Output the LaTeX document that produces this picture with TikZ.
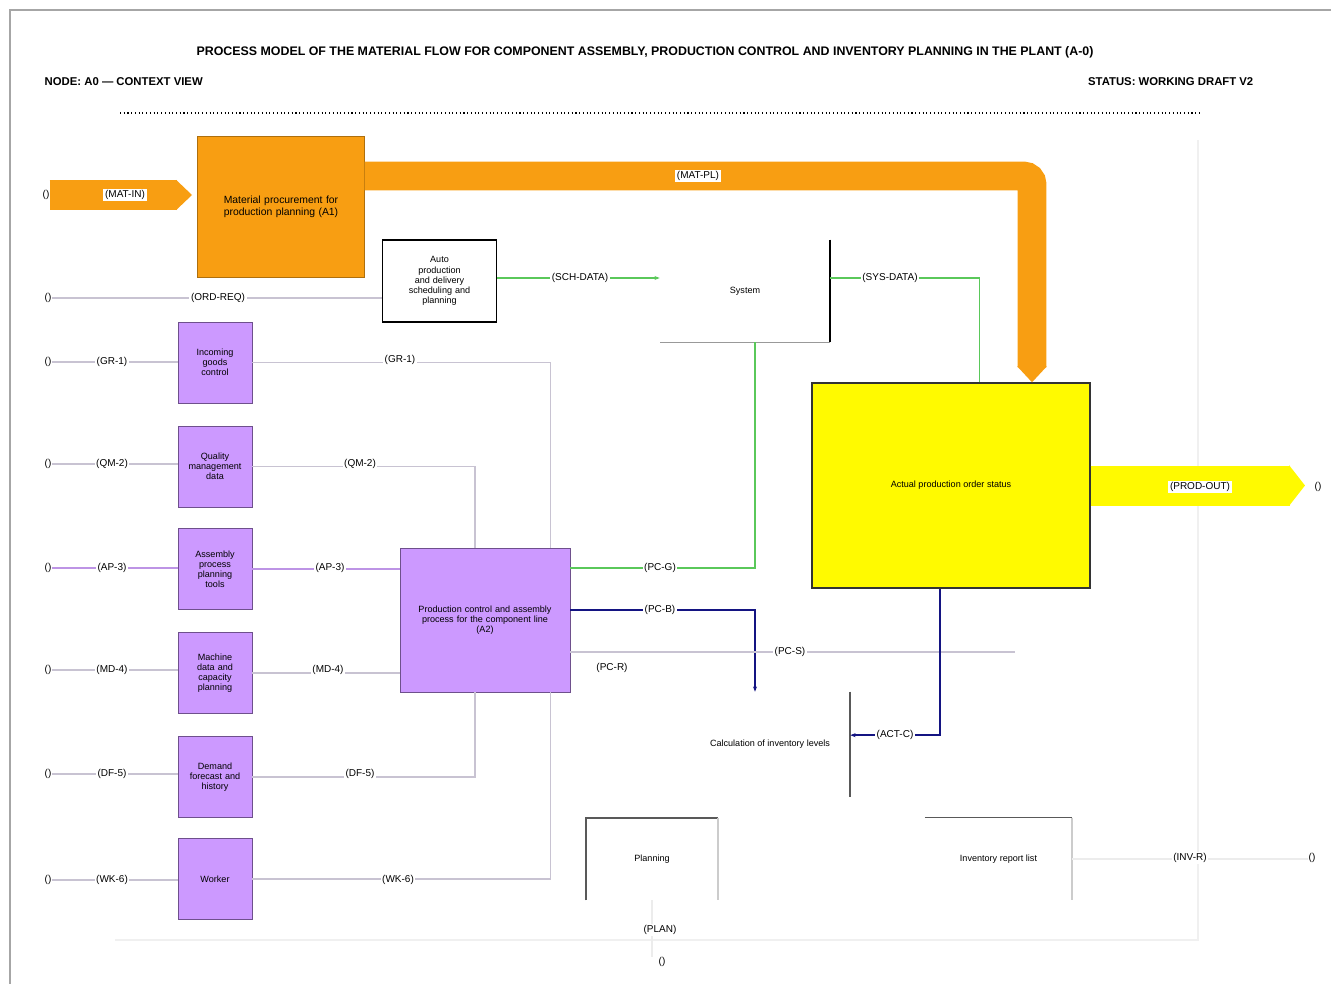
\documentclass[tikz,border=0pt]{standalone}
\usepackage{fontspec}
\setmainfont{Liberation Sans}
\usetikzlibrary{arrows.meta,calc}
\definecolor{orng}{RGB}{248,158,18}
\definecolor{yell}{RGB}{255,250,0}
\definecolor{purp}{RGB}{204,153,255}
\definecolor{purpd}{RGB}{110,80,140}
\definecolor{grn}{RGB}{90,200,90}
\definecolor{navy}{RGB}{20,20,130}
\definecolor{lgray}{RGB}{200,195,210}
\begin{document}
\begin{tikzpicture}[x=0.75pt,y=-0.75pt,
  every node/.style={font=\fontsize{6.8}{7.6}\selectfont},
  obox/.style={fill=orng, draw=orng!70!black, minimum width=125pt, minimum height=106pt, text width=118pt, align=center, inner sep=0pt, font=\fontsize{7.8}{8.8}\selectfont},
  pbox/.style={fill=purp, draw=purpd, minimum width=55.5pt, minimum height=61pt, text width=53pt, align=center, inner sep=0pt},
  bigp/.style={fill=purp, draw=purpd, minimum width=127.5pt, minimum height=108pt, text width=122pt, align=center, inner sep=0pt},
  ybox/.style={fill=yell, draw=black!80, line width=1pt, minimum width=208.5pt, minimum height=153.75pt, align=center, inner sep=0pt},
  plain/.style={minimum width=#1, align=center, inner sep=0pt},
  lbl/.style={fill=white, inner sep=1.2pt, font=\fontsize{7.5}{8.5}\selectfont},
  mk/.style={inner sep=0pt, font=\fontsize{7.5}{8.5}\selectfont},
  gline/.style={lgray, line width=0.8pt},
  pline/.style={purp!80!gray, line width=1pt},
  grline/.style={grn, line width=1pt},
  bline/.style={navy, line width=1.3pt},
  fat/.style={line width=#1, -{Triangle[length=12pt,width=#1]}},
]
\useasboundingbox (0,0) rectangle (1331,984);
% frame
\draw[gray!70, line width=1.5pt] (10,984) -- (10,10) -- (1331,10);
% header
\node[font=\bfseries\fontsize{9.3}{10}\selectfont] (title) at (645,52) {PROCESS MODEL OF THE MATERIAL FLOW FOR COMPONENT ASSEMBLY, PRODUCTION CONTROL AND INVENTORY PLANNING IN THE PLANT (A-0)};
\node[anchor=west, font=\bfseries\fontsize{8.5}{9}\selectfont] (subl) at (40,82) {NODE: A0 — CONTEXT VIEW};
\node[anchor=east, font=\bfseries\fontsize{8.5}{9}\selectfont] (subr) at (1258,82) {STATUS: WORKING DRAFT V2};
\coordinate (dl1) at (120,113); \coordinate (dl2) at (1200,113);
\draw[dotted, line width=0.8pt] (dl1) -- (dl2);
% lane lines
\coordinate (ln1) at (1198,140); \coordinate (ln2) at (1198,940); \coordinate (ln3) at (115,940);
\draw[gray!12, line width=1pt] (ln1) -- (ln2) -- (ln3);

% nodes
\node[obox] (src) at (281,207) {Material procurement for\\production planning (A1)};
\node[plain=85pt, minimum height=61.5pt, draw=black, line width=0.9pt, text width=82pt] (sb) at (439.5,281) {Auto\\production\\and delivery\\scheduling and\\planning};
\node[plain=127.5pt, minimum height=76.5pt] (sn) at (745,291) {System};
\draw[line width=1.2pt] (sn.north east) -- (sn.south east);
\draw[gray!80, line width=1pt] (sn.south east) -- (sn.south west);
\node[ybox] (yel) at (951,485.5) {Actual production order status};

\node[pbox] (p1) at (215,362.5) {Incoming\\goods\\control};
\node[pbox] (p2) at (215,466.5) {Quality\\management\\data};
\node[pbox] (p3) at (215,569) {Assembly\\process\\planning\\tools};
\node[pbox] (p4) at (215,673) {Machine\\data and\\capacity\\planning};
\node[pbox] (p5) at (215,777) {Demand\\forecast and\\history};
\node[pbox] (p6) at (215,879) {Worker};
\node[bigp] (bp) at (485,620) {Production control and assembly\\process for the component line\\(A2)};

\node[plain=120pt, minimum height=78.75pt] (calc) at (770,744.5) {Calculation of inventory levels};
\draw[gray!70!black, line width=1.2pt] (calc.north east) -- (calc.south east);
\node[plain=99pt, minimum height=61.5pt] (pl) at (652,859) {Planning};
\draw[gray!70!black, line width=1.2pt] (pl.south west) -- (pl.north west) -- (pl.north east);
\draw[gray!40, line width=1.2pt] (pl.north east) -- (pl.south east);
\node[plain=110pt, minimum height=61.5pt] (bx2) at (998.5,859) {Inventory report list};
\draw[gray!70!black, line width=1pt] (bx2.north west) -- (bx2.north east);
\draw[gray!40, line width=1.2pt] (bx2.north east) -- (bx2.south east);

% markers
\node[mk] (in0) at (46,195) {()};
\node[mk] (i0) at (48,298) {()};
\node[mk] (i1) at (48,362) {()};
\node[mk] (i2) at (48,464) {()};
\node[mk] (i3) at (48,568) {()};
\node[mk] (i4) at (48,670) {()};
\node[mk] (i5) at (48,774) {()};
\node[mk] (i6) at (48,880) {()};
\node[mk] (oy) at (1318,487) {()};
\node[mk] (ob) at (1312,858) {()};
\node[mk] (op) at (662,962) {()};
\coordinate (yt) at (1305,487);
\coordinate (g1) at (1015,652);

% thick flows
\draw[orng, fat=22pt] (in0.east) -- ([xshift=-4pt]in0.east -| src.west);
\draw[orng, fat=21.5pt, rounded corners=6pt] ([yshift=-30pt]src.north east) -| ([xshift=-44pt]yel.north east);
\draw[yell, fat=30pt] (yel.east) -- (yel.east -| yt);

% thin connectors
\draw[gline] (i0.east) -- (i0 -| sb.west);
\draw[grline, -{Stealth[length=4pt]}] ([yshift=2.25pt]sb.east) -- ([yshift=2.25pt]sb.east -| sn.west);
\draw[grline] ([yshift=9.75pt]sn.east) -| ([xshift=126pt]yel.north west);
\draw[grline] ([yshift=39pt]bp.east) -| ([xshift=7.5pt]sn.south);
\draw[bline, -{Stealth[length=4pt]}] ([yshift=7.5pt]bp.east) -| ([xshift=-11.25pt]calc.north);
\draw[gline] ([yshift=-24pt]bp.east) -- (g1);
\draw[bline, -{Stealth[length=4pt]}] ([xshift=-8.25pt]yel.south) |- ([yshift=7pt]calc.east);

\draw[gline] (i1.east) -- (i1.east -| p1.west);
\draw[gline] (i2.east) -- (i2.east -| p2.west);
\draw[pline] (i3.east) -- (i3.east -| p3.west);
\draw[gline] (i4.east) -- (i4.east -| p4.west);
\draw[gline] (i5.east) -- (i5.east -| p5.west);
\draw[gline] (i6.east) -- (i6.east -| p6.west);

\draw[gline] (p1.east) -| ([xshift=-15pt]bp.north east);
\draw[gline] (p2.east) -| ([xshift=-7.5pt]bp.north);
\draw[pline] (p3.east) -- (p3.east -| bp.west);
\draw[gline] (p4.east) -- (p4.east -| bp.west);
\draw[gline] (p5.east) -| ([xshift=-7.5pt]bp.south);
\draw[gline] (p6.east) -| ([xshift=-15pt]bp.south east);

\draw[gray!15, line width=0.8pt] (pl.south) -- (pl.south |- op.north);
\draw[gray!15, line width=0.8pt] (bx2.east) -- (bx2.east -| ob.west);

% labels
\node[lbl] (la0) at (125,195) {(MAT-IN)};
\node[lbl] (lat) at (698,176) {(MAT-PL)};
\node[lbl] (lb0) at (218,298) {(ORD-REQ)};
\node[lbl] (lg1) at (580,278) {(SCH-DATA)};
\node[lbl] (lg2) at (890,278) {(SYS-DATA)};
\node[lbl] (l1a) at (112,362) {(GR-1)};
\node[lbl] (l1b) at (400,360) {(GR-1)};
\node[lbl] (l2a) at (112,464) {(QM-2)};
\node[lbl] (l2b) at (360,464) {(QM-2)};
\node[lbl] (l3a) at (112,568) {(AP-3)};
\node[lbl] (l3b) at (330,568) {(AP-3)};
\node[lbl] (l4a) at (112,670) {(MD-4)};
\node[lbl] (l4b) at (328,670) {(MD-4)};
\node[lbl] (l5a) at (112,774) {(DF-5)};
\node[lbl] (l5b) at (360,774) {(DF-5)};
\node[lbl] (l6a) at (112,880) {(WK-6)};
\node[lbl] (l6b) at (398,880) {(WK-6)};
\node[lbl] (lg3) at (660,568) {(PC-G)};
\node[lbl] (lb1) at (660,610) {(PC-B)};
\node[lbl] (lb2) at (790,652) {(PC-S)};
\node[lbl] (lb3) at (612,668) {(PC-R)};
\node[lbl] (lb4) at (895,735) {(ACT-C)};
\node[lbl] (ly) at (1200,487) {(PROD-OUT)};
\node[lbl] (lbx) at (1190,858) {(INV-R)};
\node[lbl] (lpl) at (660,930) {(PLAN)};
\end{tikzpicture}
\end{document}
